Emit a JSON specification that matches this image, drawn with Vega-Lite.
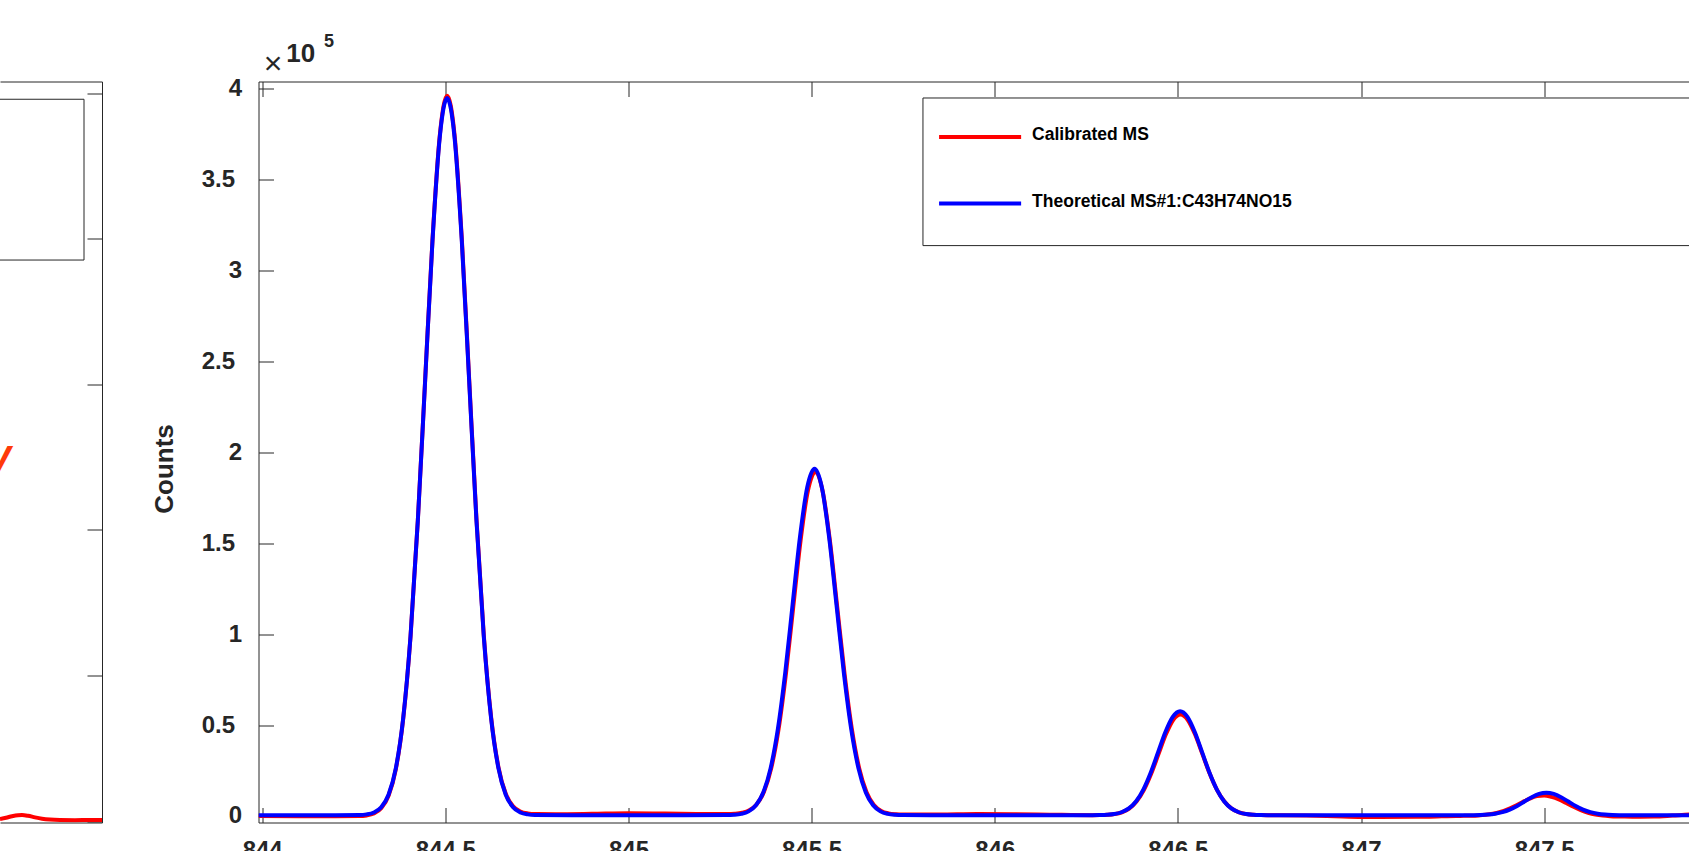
{
  "$schema": "https://vega.github.io/schema/vega-lite/v6.json",
  "autosize": {"type": "none"},
  "padding": {"left": 0, "top": 81.5, "right": 1689, "bottom": 770},
  "bounds": "flush",
  "spacing": 156.5,
  "background": "white",
  "config": {
    "view": {"stroke": null},
    "font": "Liberation Sans",
    "axis": {
      "grid": false,
      "domainColor": "#262626",
      "tickColor": "#262626",
      "labelColor": "#262626",
      "titleColor": "#262626",
      "domainWidth": 1,
      "tickWidth": 1,
      "tickSize": -15,
      "labelFont": "Liberation Sans",
      "labelFontWeight": "bold",
      "labelFontSize": 24,
      "labelFlush": false,
      "labelOverlap": false,
      "titleFont": "Liberation Sans",
      "titleFontWeight": "bold",
      "titleFontSize": 26
    }
  },
  "datasets": {
    "calibrated": [
      {"mz": 843.99, "counts": 0}, {"mz": 844.1, "counts": -100}, {"mz": 844.2, "counts": -100},
      {"mz": 844.265, "counts": -67}, {"mz": 844.285, "counts": 275}, {"mz": 844.305, "counts": 1333},
      {"mz": 844.325, "counts": 4200}, {"mz": 844.345, "counts": 11114}, {"mz": 844.365, "counts": 25817},
      {"mz": 844.385, "counts": 53379}, {"mz": 844.405, "counts": 98562}, {"mz": 844.425, "counts": 162596},
      {"mz": 844.445, "counts": 239974}, {"mz": 844.465, "counts": 316877}, {"mz": 844.485, "counts": 374416},
      {"mz": 844.505, "counts": 396200}, {"mz": 844.525, "counts": 375116}, {"mz": 844.545, "counts": 317677},
      {"mz": 844.565, "counts": 240874}, {"mz": 844.585, "counts": 163596}, {"mz": 844.605, "counts": 99662},
      {"mz": 844.625, "counts": 54479}, {"mz": 844.645, "counts": 26917}, {"mz": 844.665, "counts": 12214},
      {"mz": 844.685, "counts": 5300}, {"mz": 844.705, "counts": 2433}, {"mz": 844.725, "counts": 1375},
      {"mz": 844.745, "counts": 1033}, {"mz": 844.8, "counts": 1000}, {"mz": 844.9, "counts": 1200},
      {"mz": 845.0, "counts": 1500}, {"mz": 845.1, "counts": 1300}, {"mz": 845.2, "counts": 1100},
      {"mz": 845.27, "counts": 1063}, {"mz": 845.29, "counts": 1226}, {"mz": 845.31, "counts": 1728},
      {"mz": 845.33, "counts": 3091}, {"mz": 845.35, "counts": 6377}, {"mz": 845.37, "counts": 13365},
      {"mz": 845.39, "counts": 26463}, {"mz": 845.41, "counts": 47937}, {"mz": 845.43, "counts": 78369},
      {"mz": 845.45, "counts": 115143}, {"mz": 845.47, "counts": 151692}, {"mz": 845.49, "counts": 179037},
      {"mz": 845.51, "counts": 189000}, {"mz": 845.53, "counts": 178737}, {"mz": 845.55, "counts": 151392},
      {"mz": 845.57, "counts": 114843}, {"mz": 845.59, "counts": 78069}, {"mz": 845.61, "counts": 47637},
      {"mz": 845.63, "counts": 26163}, {"mz": 845.65, "counts": 13065}, {"mz": 845.67, "counts": 6077},
      {"mz": 845.69, "counts": 2791}, {"mz": 845.71, "counts": 1428}, {"mz": 845.73, "counts": 926},
      {"mz": 845.75, "counts": 763}, {"mz": 845.85, "counts": 800}, {"mz": 845.95, "counts": 1100},
      {"mz": 846.05, "counts": 1000}, {"mz": 846.15, "counts": 700},
      {"mz": 846.267, "counts": 419}, {"mz": 846.287, "counts": 466}, {"mz": 846.307, "counts": 614},
      {"mz": 846.327, "counts": 1015}, {"mz": 846.347, "counts": 1983}, {"mz": 846.367, "counts": 4040},
      {"mz": 846.387, "counts": 7896}, {"mz": 846.407, "counts": 14217}, {"mz": 846.427, "counts": 23175},
      {"mz": 846.447, "counts": 34000}, {"mz": 846.467, "counts": 44759}, {"mz": 846.487, "counts": 52808},
      {"mz": 846.507, "counts": 55800}, {"mz": 846.527, "counts": 52808}, {"mz": 846.547, "counts": 44759},
      {"mz": 846.567, "counts": 34000}, {"mz": 846.587, "counts": 23175}, {"mz": 846.607, "counts": 14217},
      {"mz": 846.627, "counts": 7896}, {"mz": 846.647, "counts": 4040}, {"mz": 846.667, "counts": 1983},
      {"mz": 846.687, "counts": 1015}, {"mz": 846.707, "counts": 614}, {"mz": 846.727, "counts": 466},
      {"mz": 846.747, "counts": 419}, {"mz": 846.85, "counts": 200}, {"mz": 846.95, "counts": -300},
      {"mz": 847.05, "counts": -600}, {"mz": 847.15, "counts": -500}, {"mz": 847.22, "counts": -200},
      {"mz": 847.26, "counts": 15}, {"mz": 847.28, "counts": 44}, {"mz": 847.3, "counts": 115},
      {"mz": 847.32, "counts": 277}, {"mz": 847.34, "counts": 604}, {"mz": 847.36, "counts": 1202},
      {"mz": 847.38, "counts": 2183}, {"mz": 847.4, "counts": 3617}, {"mz": 847.42, "counts": 5469},
      {"mz": 847.44, "counts": 7541}, {"mz": 847.46, "counts": 9485}, {"mz": 847.48, "counts": 10887},
      {"mz": 847.5, "counts": 11300}, {"mz": 847.52, "counts": 10487}, {"mz": 847.54, "counts": 9085},
      {"mz": 847.56, "counts": 7141}, {"mz": 847.58, "counts": 5069}, {"mz": 847.6, "counts": 3217},
      {"mz": 847.62, "counts": 1783}, {"mz": 847.64, "counts": 802}, {"mz": 847.66, "counts": 204},
      {"mz": 847.68, "counts": -123}, {"mz": 847.7, "counts": -285}, {"mz": 847.72, "counts": -356},
      {"mz": 847.74, "counts": -385}, {"mz": 847.8, "counts": -300}, {"mz": 847.85, "counts": 200},
      {"mz": 847.9, "counts": 800}, {"mz": 848.01, "counts": 1000}
    ],
    "theoretical": [
      {"mz": 843.99, "counts": 400}, {"mz": 844.1, "counts": 400}, {"mz": 844.2, "counts": 430},
      {"mz": 844.265, "counts": 532}, {"mz": 844.285, "counts": 873}, {"mz": 844.305, "counts": 1927},
      {"mz": 844.325, "counts": 4783}, {"mz": 844.345, "counts": 11671}, {"mz": 844.365, "counts": 26319},
      {"mz": 844.385, "counts": 53776}, {"mz": 844.405, "counts": 98788}, {"mz": 844.425, "counts": 162579},
      {"mz": 844.445, "counts": 239664}, {"mz": 844.465, "counts": 316276}, {"mz": 844.485, "counts": 373597},
      {"mz": 844.505, "counts": 394900}, {"mz": 844.525, "counts": 373597}, {"mz": 844.545, "counts": 316276},
      {"mz": 844.565, "counts": 239664}, {"mz": 844.585, "counts": 162579}, {"mz": 844.605, "counts": 98788},
      {"mz": 844.625, "counts": 53776}, {"mz": 844.645, "counts": 26319}, {"mz": 844.665, "counts": 11671},
      {"mz": 844.685, "counts": 4783}, {"mz": 844.705, "counts": 1927}, {"mz": 844.725, "counts": 873},
      {"mz": 844.745, "counts": 532}, {"mz": 844.85, "counts": 420}, {"mz": 845.0, "counts": 420},
      {"mz": 845.15, "counts": 420},
      {"mz": 845.268, "counts": 464}, {"mz": 845.288, "counts": 629}, {"mz": 845.308, "counts": 1138},
      {"mz": 845.328, "counts": 2518}, {"mz": 845.348, "counts": 5846}, {"mz": 845.368, "counts": 12922},
      {"mz": 845.388, "counts": 26188}, {"mz": 845.408, "counts": 47936}, {"mz": 845.428, "counts": 78756},
      {"mz": 845.448, "counts": 115999}, {"mz": 845.468, "counts": 153013}, {"mz": 845.488, "counts": 180708},
      {"mz": 845.508, "counts": 191000}, {"mz": 845.528, "counts": 180708}, {"mz": 845.548, "counts": 153013},
      {"mz": 845.568, "counts": 115999}, {"mz": 845.588, "counts": 78756}, {"mz": 845.608, "counts": 47936},
      {"mz": 845.628, "counts": 26188}, {"mz": 845.648, "counts": 12922}, {"mz": 845.668, "counts": 5846},
      {"mz": 845.688, "counts": 2518}, {"mz": 845.708, "counts": 1138}, {"mz": 845.728, "counts": 629},
      {"mz": 845.748, "counts": 464}, {"mz": 845.85, "counts": 410}, {"mz": 846.0, "counts": 400},
      {"mz": 846.15, "counts": 400},
      {"mz": 846.266, "counts": 419}, {"mz": 846.286, "counts": 469}, {"mz": 846.306, "counts": 621},
      {"mz": 846.326, "counts": 1035}, {"mz": 846.346, "counts": 2034}, {"mz": 846.366, "counts": 4158},
      {"mz": 846.386, "counts": 8139}, {"mz": 846.406, "counts": 14666}, {"mz": 846.426, "counts": 23915},
      {"mz": 846.446, "counts": 35092}, {"mz": 846.466, "counts": 46200}, {"mz": 846.486, "counts": 54511},
      {"mz": 846.506, "counts": 57600}, {"mz": 846.526, "counts": 54511}, {"mz": 846.546, "counts": 46200},
      {"mz": 846.566, "counts": 35092}, {"mz": 846.586, "counts": 23915}, {"mz": 846.606, "counts": 14666},
      {"mz": 846.626, "counts": 8139}, {"mz": 846.646, "counts": 4158}, {"mz": 846.666, "counts": 2034},
      {"mz": 846.686, "counts": 1035}, {"mz": 846.706, "counts": 621}, {"mz": 846.726, "counts": 469},
      {"mz": 846.746, "counts": 419}, {"mz": 846.85, "counts": 400}, {"mz": 847.0, "counts": 400},
      {"mz": 847.15, "counts": 400},
      {"mz": 847.266, "counts": 404}, {"mz": 847.286, "counts": 415}, {"mz": 847.306, "counts": 448},
      {"mz": 847.326, "counts": 538}, {"mz": 847.346, "counts": 754}, {"mz": 847.366, "counts": 1215},
      {"mz": 847.386, "counts": 2078}, {"mz": 847.406, "counts": 3493}, {"mz": 847.426, "counts": 5498},
      {"mz": 847.446, "counts": 7921}, {"mz": 847.466, "counts": 10329}, {"mz": 847.486, "counts": 12130},
      {"mz": 847.506, "counts": 12800}, {"mz": 847.526, "counts": 12130}, {"mz": 847.546, "counts": 10329},
      {"mz": 847.566, "counts": 7921}, {"mz": 847.586, "counts": 5498}, {"mz": 847.606, "counts": 3493},
      {"mz": 847.626, "counts": 2078}, {"mz": 847.646, "counts": 1215}, {"mz": 847.666, "counts": 754},
      {"mz": 847.686, "counts": 538}, {"mz": 847.706, "counts": 448}, {"mz": 847.726, "counts": 415},
      {"mz": 847.8, "counts": 400}, {"mz": 847.9, "counts": 400}, {"mz": 848.01, "counts": 400}
    ],
    "leftpanel": [
      {"pos": 0, "value": 0.014}, {"pos": 6, "value": 0.022}, {"pos": 12, "value": 0.033},
      {"pos": 18, "value": 0.04}, {"pos": 22, "value": 0.041}, {"pos": 28, "value": 0.036},
      {"pos": 35, "value": 0.025}, {"pos": 42, "value": 0.016}, {"pos": 50, "value": 0.01},
      {"pos": 60, "value": 0.007}, {"pos": 75, "value": 0.006}, {"pos": 90, "value": 0.007},
      {"pos": 102, "value": 0.007}
    ],
    "one": [{}]
  },
  "hconcat": [
    {
      "width": 102,
      "height": 741,
      "layer": [
        {
          "data": {"name": "one"},
          "mark": {"type": "rect", "clip": true, "fill": "white", "stroke": "#262626", "strokeWidth": 1},
          "encoding": {
            "x": {"datum": -30, "type": "quantitative", "scale": {"domain": [0, 102], "nice": false, "zero": false},
                  "axis": {"orient": "top", "ticks": false, "labels": false, "title": null}},
            "x2": {"datum": 84},
            "y": {"datum": 4.96, "type": "quantitative", "scale": {"domain": [-0.0103, 5.082], "nice": false, "zero": false},
                  "axis": {"orient": "right", "values": [0, 1, 2, 3, 4, 5], "labels": false, "title": null}},
            "y2": {"datum": 3.855}
          }
        },
        {
          "data": {"name": "leftpanel"},
          "mark": {"type": "line", "clip": true, "color": "#ff0000", "strokeWidth": 4, "interpolate": "monotone"},
          "encoding": {
            "x": {"field": "pos", "type": "quantitative", "scale": {"domain": [0, 102], "nice": false, "zero": false},
                  "axis": {"orient": "bottom", "ticks": false, "labels": false, "title": null}},
            "y": {"field": "value", "type": "quantitative", "scale": {"domain": [-0.0103, 5.082], "nice": false, "zero": false}, "axis": null}
          }
        },
        {
          "data": {"name": "one"},
          "mark": {"type": "text", "clip": true, "text": "V", "align": "right", "baseline": "alphabetic",
                   "font": "Liberation Sans", "fontSize": 38, "fontStyle": "italic", "fontWeight": "bold", "color": "#ff3a0a"},
          "encoding": {
            "x": {"datum": 10.5, "type": "quantitative", "scale": {"domain": [0, 102], "nice": false, "zero": false}, "axis": null},
            "y": {"datum": 2.392, "type": "quantitative", "scale": {"domain": [-0.0103, 5.082], "nice": false, "zero": false}, "axis": null}
          }
        }
      ],
      "resolve": {"axis": {"x": "independent", "y": "independent"}}
    },
    {
      "width": 1472.5,
      "height": 741,
      "layer": [
        {
          "data": {"name": "calibrated"},
          "mark": {"type": "line", "clip": true, "color": "#ff0000", "strokeWidth": 4, "interpolate": "monotone"},
          "encoding": {
            "x": {"field": "mz", "type": "quantitative", "scale": {"domain": [843.99, 848.01], "nice": false, "zero": false},
                  "axis": {"orient": "bottom", "values": [844, 844.5, 845, 845.5, 846, 846.5, 847, 847.5, 848], "format": "~g", "labelPadding": 31, "title": null}},
            "y": {"field": "counts", "type": "quantitative", "scale": {"domain": [-3600, 404000], "nice": false, "zero": false},
                  "axis": {"orient": "left", "values": [0, 100000, 200000, 300000, 400000],
                           "labelExpr": "format(datum.value / 100000, '~g')",
                           "labelPadding": 32, "title": "Counts",
                           "titleAngle": 270, "titleAlign": "center", "titleBaseline": "middle", "titleX": -94, "titleY": 387}}
          }
        },
        {
          "data": {"name": "theoretical"},
          "mark": {"type": "line", "clip": true, "color": "#0000ff", "strokeWidth": 4, "interpolate": "monotone"},
          "encoding": {
            "x": {"field": "mz", "type": "quantitative", "scale": {"domain": [843.99, 848.01], "nice": false, "zero": false}, "axis": null},
            "y": {"field": "counts", "type": "quantitative", "scale": {"domain": [-3600, 404000], "nice": false, "zero": false},
                  "axis": {"orient": "left", "values": [50000, 150000, 250000, 350000],
                           "labelExpr": "format(datum.value / 100000, '~g')",
                           "labelPadding": 39, "domain": false, "title": null}}
          }
        },
        {
          "data": {"name": "one"},
          "mark": {"type": "rect", "clip": true, "fill": "white", "stroke": "#262626", "strokeWidth": 1},
          "encoding": {
            "x": {"datum": 845.804, "type": "quantitative", "scale": {"domain": [843.99, 848.01], "nice": false, "zero": false},
                  "axis": {"orient": "top", "values": [844, 844.5, 845, 845.5, 846, 846.5, 847, 847.5, 848], "labels": false, "title": null}},
            "x2": {"datum": 848.6},
            "y": {"datum": 394924, "type": "quantitative", "scale": {"domain": [-3600, 404000], "nice": false, "zero": false}, "axis": null},
            "y2": {"datum": 313733}
          }
        },
        {
          "data": {"name": "one"},
          "mark": {"type": "rule", "color": "#ff0000", "strokeWidth": 4},
          "encoding": {
            "x": {"datum": 845.848, "type": "quantitative", "scale": {"domain": [843.99, 848.01], "nice": false, "zero": false}, "axis": null},
            "x2": {"datum": 846.072},
            "y": {"datum": 373471, "type": "quantitative", "scale": {"domain": [-3600, 404000], "nice": false, "zero": false}, "axis": null}
          }
        },
        {
          "data": {"name": "one"},
          "mark": {"type": "rule", "color": "#0000ff", "strokeWidth": 4},
          "encoding": {
            "x": {"datum": 845.848, "type": "quantitative", "scale": {"domain": [843.99, 848.01], "nice": false, "zero": false}, "axis": null},
            "x2": {"datum": 846.072},
            "y": {"datum": 336836, "type": "quantitative", "scale": {"domain": [-3600, 404000], "nice": false, "zero": false}, "axis": null}
          }
        },
        {
          "data": {"name": "one"},
          "mark": {"type": "text", "text": "Calibrated MS", "align": "left", "baseline": "middle", "font": "Liberation Sans", "fontSize": 17.5, "fontWeight": "bold", "color": "#000000"},
          "encoding": {
            "x": {"datum": 846.102, "type": "quantitative", "scale": {"domain": [843.99, 848.01], "nice": false, "zero": false}, "axis": null},
            "y": {"datum": 374600, "type": "quantitative", "scale": {"domain": [-3600, 404000], "nice": false, "zero": false}, "axis": null}
          }
        },
        {
          "data": {"name": "one"},
          "mark": {"type": "text", "text": "Theoretical MS#1:C43H74NO15", "align": "left", "baseline": "middle", "font": "Liberation Sans", "fontSize": 17.5, "fontWeight": "bold", "color": "#000000"},
          "encoding": {
            "x": {"datum": 846.102, "type": "quantitative", "scale": {"domain": [843.99, 848.01], "nice": false, "zero": false}, "axis": null},
            "y": {"datum": 337700, "type": "quantitative", "scale": {"domain": [-3600, 404000], "nice": false, "zero": false}, "axis": null}
          }
        },
        {
          "data": {"name": "one"},
          "mark": {"type": "text", "text": "×", "align": "center", "baseline": "middle", "font": "Liberation Sans", "fontSize": 32, "fontWeight": "normal", "color": "#262626"},
          "encoding": {
            "x": {"datum": 844.0296, "type": "quantitative", "scale": {"domain": [843.99, 848.01], "nice": false, "zero": false}, "axis": null},
            "y": {"datum": 413901, "type": "quantitative", "scale": {"domain": [-3600, 404000], "nice": false, "zero": false}, "axis": null}
          }
        },
        {
          "data": {"name": "one"},
          "mark": {"type": "text", "text": "10", "align": "left", "baseline": "alphabetic", "font": "Liberation Sans", "fontSize": 26, "fontWeight": "bold", "color": "#262626"},
          "encoding": {
            "x": {"datum": 844.066, "type": "quantitative", "scale": {"domain": [843.99, 848.01], "nice": false, "zero": false}, "axis": null},
            "y": {"datum": 414726, "type": "quantitative", "scale": {"domain": [-3600, 404000], "nice": false, "zero": false}, "axis": null}
          }
        },
        {
          "data": {"name": "one"},
          "mark": {"type": "text", "text": "5", "align": "left", "baseline": "alphabetic", "font": "Liberation Sans", "fontSize": 18, "fontWeight": "bold", "color": "#262626"},
          "encoding": {
            "x": {"datum": 844.1688, "type": "quantitative", "scale": {"domain": [843.99, 848.01], "nice": false, "zero": false}, "axis": null},
            "y": {"datum": 422977, "type": "quantitative", "scale": {"domain": [-3600, 404000], "nice": false, "zero": false}, "axis": null}
          }
        }
      ],
      "resolve": {"axis": {"x": "independent", "y": "independent"}}
    }
  ]
}
